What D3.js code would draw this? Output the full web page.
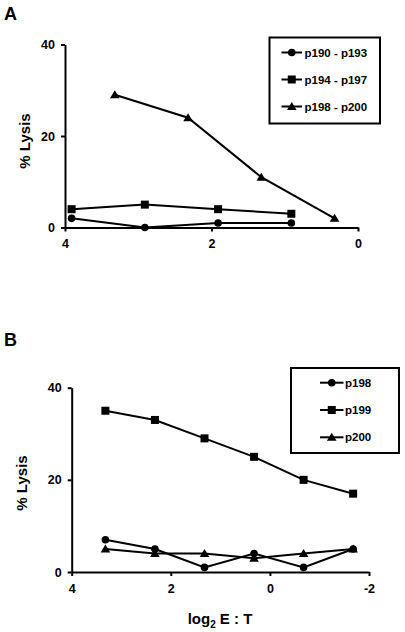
<!DOCTYPE html>
<html><head><meta charset="utf-8">
<script src="https://cdn.jsdelivr.net/npm/d3@7"></script>
<style>
html,body{margin:0;padding:0;background:#fff;}
text{font-family:"Liberation Sans",Arial,sans-serif;font-weight:bold;fill:#000;}
</style></head>
<body>
<svg id="chart" width="405" height="632"></svg>
<script>
// ---- Panel A data ----
const aXTicks = [4, 2, 0];
const aYTicks = [0, 20, 40];
const aX1 = [3.91, 2.91, 1.91, 0.91];       // log2 E:T for p190-p193 / p194-p197
const aX2 = [3.32, 2.32, 1.32, 0.32];       // log2 E:T for p198-p200
const p190_193 = [2, 0, 1, 1];
const p194_197 = [4, 5, 4, 3];
const p198_200 = [29, 24, 11, 2];
const aSeriesNames = ["p190 - p193", "p194 - p197", "p198 - p200"];

// ---- Panel B data ----
const bXTicks = [4, 2, 0, -2];
const bYTicks = [0, 20, 40];
const bX = [3.32, 2.32, 1.32, 0.32, -0.68, -1.68];
const p198 = [7, 5, 1, 4, 1, 5];
const p199 = [35, 33, 29, 25, 20, 17];
const p200 = [5, 4, 4, 3, 4, 5];
const bSeriesNames = ["p198", "p199", "p200"];

const svg = d3.select("#chart");

function marker(g, type, x, y) {
  if (type === "circle") {
    g.append("circle").attr("cx", x).attr("cy", y).attr("r", 3.8).attr("fill", "#000");
  } else if (type === "square") {
    g.append("rect").attr("x", x - 4).attr("y", y - 4).attr("width", 8).attr("height", 8).attr("fill", "#000");
  } else {
    g.append("path").attr("d", `M${x},${y - 4.5}L${x + 4.8},${y + 3.5}L${x - 4.8},${y + 3.5}Z`).attr("fill", "#000");
  }
}

function panel(cfg) {
  const g = svg.append("g");
  const x = d3.scaleLinear().domain(cfg.xDomain).range(cfg.xRange);
  const y = d3.scaleLinear().domain([0, 40]).range(cfg.yRange);

  // axes
  const xAxis = d3.axisBottom(x).tickValues(cfg.xTicks).tickSize(4).tickSizeOuter(0).tickPadding(8).tickFormat(d => String(d));
  const gx = g.append("g").attr("transform", `translate(0,${cfg.yRange[0]})`).call(xAxis);
  const yAxis = d3.axisLeft(y).tickValues(cfg.yTicks).tickSize(4).tickSizeOuter(0).tickPadding(6).tickFormat(d => String(d));
  const gy = g.append("g").attr("transform", `translate(${cfg.xRange[0]},0)`).call(yAxis);
  [gx, gy].forEach(a => {
    a.select(".domain").attr("stroke", "#000").attr("stroke-width", 2);
    a.selectAll(".tick line").attr("stroke", "#000").attr("stroke-width", 2);
    a.selectAll("text").style("font-size", "12.5px").style("font-weight", "bold").attr("fill", "#000");
  });
  gx.selectAll("text").attr("dy", "0.71em");

  // series
  const line = d3.line().x(d => x(d[0])).y(d => y(d[1]));
  cfg.series.forEach(s => {
    const pts = s.xs.map((xv, i) => [xv, s.ys[i]]);
    g.append("path").datum(pts).attr("d", line).attr("fill", "none").attr("stroke", "#000").attr("stroke-width", 2);
    pts.forEach(p => marker(g, s.shape, x(p[0]), y(p[1])));
  });

  // y label
  g.append("text").attr("transform", `translate(${cfg.yLabelPos[0]},${cfg.yLabelPos[1]}) rotate(-90)`)
    .attr("text-anchor", "middle").attr("dominant-baseline", "middle").style("font-size", "15px").text("% Lysis");

  // panel letter
  g.append("text").attr("x", cfg.letterPos[0]).attr("y", cfg.letterPos[1]).style("font-size", "18px").text(cfg.letter);

  // legend
  const L = cfg.legend;
  g.append("rect").attr("x", L.x).attr("y", L.y).attr("width", L.w).attr("height", L.h)
    .attr("fill", "#fff").attr("stroke", "#000").attr("stroke-width", 2);
  cfg.series.forEach((s, i) => {
    const ry = L.rows[i];
    g.append("line").attr("x1", L.lx1).attr("x2", L.lx2).attr("y1", ry).attr("y2", ry).attr("stroke", "#000").attr("stroke-width", 2);
    marker(g, s.shape, (L.lx1 + L.lx2) / 2, ry);
    g.append("text").attr("x", L.tx).attr("y", ry).attr("dominant-baseline", "central").style("font-size", "11.5px").text(s.name);
  });
  return {x, y, g};
}

panel({
  letter: "A", letterPos: [4, 20],
  xDomain: [4, 0], xRange: [65, 358], yRange: [227.5, 44.5],
  xTicks: aXTicks, yTicks: aYTicks,
  yLabelPos: [26, 141],
  series: [
    {name: aSeriesNames[0], xs: aX1, ys: p190_193, shape: "circle"},
    {name: aSeriesNames[1], xs: aX1, ys: p194_197, shape: "square"},
    {name: aSeriesNames[2], xs: aX2, ys: p198_200, shape: "triangle"}
  ],
  legend: {x: 269.5, y: 37.5, w: 110.5, h: 86, rows: [52.5, 79.5, 106.5], lx1: 281.5, lx2: 302, tx: 304.5}
});

panel({
  letter: "B", letterPos: [4, 346],
  xDomain: [4, -2], xRange: [71.7, 369], yRange: [572, 387.7],
  xTicks: bXTicks, yTicks: bYTicks,
  yLabelPos: [23.5, 483],
  series: [
    {name: bSeriesNames[0], xs: bX, ys: p198, shape: "circle"},
    {name: bSeriesNames[1], xs: bX, ys: p199, shape: "square"},
    {name: bSeriesNames[2], xs: bX, ys: p200, shape: "triangle"}
  ],
  legend: {x: 291, y: 368, w: 108, h: 85, rows: [382.7, 410, 437.3], lx1: 320, lx2: 343.5, tx: 345}
});

const xt = svg.append("text").attr("x", 220).attr("y", 624).attr("text-anchor", "middle").style("font-size", "15px");
xt.append("tspan").text("log");
xt.append("tspan").attr("dy", 4).style("font-size", "10px").text("2");
xt.append("tspan").attr("dy", -4).text(" E : T");
</script>
</body></html>
